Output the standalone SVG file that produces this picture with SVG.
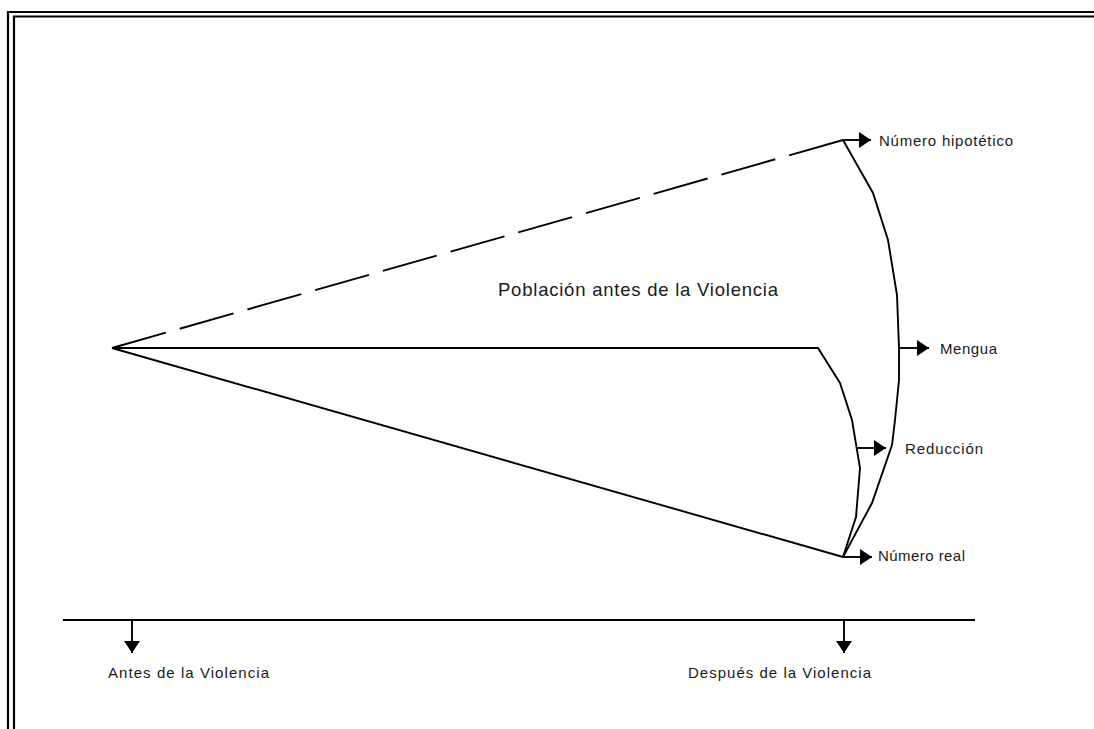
<svg xmlns="http://www.w3.org/2000/svg" width="1094" height="729" viewBox="0 0 1094 729">
<style>
.ln{fill:none;stroke:#000;stroke-width:1.9;stroke-linejoin:miter}
.dash{stroke-dasharray:56 14.4}
.bd{fill:none;stroke:#000;stroke-width:2.2}
.head{fill:#000;stroke:none}
.t{font-family:"Liberation Sans",Arial,sans-serif;fill:#1a1a1a}
.s{font-size:15px}
.m{font-size:18.5px}
</style>
<defs>
<marker id="ah" viewBox="0 0 12 16" refX="12" refY="8" markerWidth="12" markerHeight="16" markerUnits="userSpaceOnUse" orient="auto">
<path d="M0,0 L12,8 L0,16 Z" class="head"/>
</marker>
</defs>
<rect width="1094" height="729" fill="#fff"/>
<g id="border">
<polyline class="bd" points="8,729 8,12 1094,12"/>
<polyline class="bd" points="14,729 14,16.5 1094,16.5"/>
</g>
<g id="connectors">
<line class="ln dash" x1="112" y1="348" x2="843" y2="140"/>
<polyline class="ln" points="112,348 818,348 840,383 852,420 860,468 856,517 843,557"/>
<line class="ln" x1="112" y1="348" x2="843" y2="557"/>
<polyline class="ln" points="843,140 873,193 888,240 897,295 899,348 899,380 895,420 892,445 872,503 843,557"/>
<line class="ln" x1="843" y1="140" x2="871" y2="140" marker-end="url(#ah)"/>
<line class="ln" x1="899" y1="348" x2="929" y2="348" marker-end="url(#ah)"/>
<line class="ln" x1="857" y1="448" x2="886" y2="448" marker-end="url(#ah)"/>
<line class="ln" x1="843" y1="557" x2="872" y2="557" marker-end="url(#ah)"/>
<line class="ln" x1="63" y1="620" x2="975" y2="620"/>
<line class="ln" x1="132" y1="620" x2="132" y2="653" marker-end="url(#ah)"/>
<line class="ln" x1="844" y1="620" x2="844" y2="653" marker-end="url(#ah)"/>
</g>
<g id="poblacion"><text class="t m" x="498" y="296" textLength="280" lengthAdjust="spacing">Población antes de la Violencia</text></g>
<g id="hipotetico"><text class="t s" x="879" y="146" textLength="134" lengthAdjust="spacing">Número hipotético</text></g>
<g id="mengua"><text class="t s" x="940" y="354" textLength="57" lengthAdjust="spacing">Mengua</text></g>
<g id="reduccion"><text class="t s" x="905" y="454" textLength="78" lengthAdjust="spacing">Reducción</text></g>
<g id="real"><text class="t s" x="878" y="561" textLength="87" lengthAdjust="spacing">Número real</text></g>
<g id="antes"><text class="t s" x="108" y="678" textLength="161" lengthAdjust="spacing">Antes de la Violencia</text></g>
<g id="despues"><text class="t s" x="688" y="678" textLength="183" lengthAdjust="spacing">Después de la Violencia</text></g>
</svg>
